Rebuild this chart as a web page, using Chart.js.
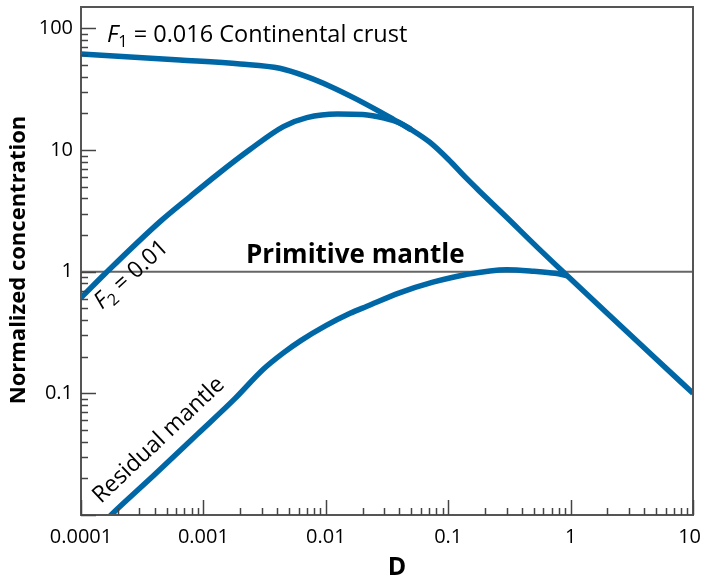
<!DOCTYPE html>
<html>
<head>
<meta charset="utf-8">
<script src="https://cdn.jsdelivr.net/npm/chart.js@4/dist/chart.umd.min.js"></script>
<style>
  body { margin: 0; background: #fff; }
  #wrap { width: 702px; height: 582px; }
</style>
</head>
<body>
<div id="wrap"><canvas id="plot"></canvas></div>
<script>
// valeurs (D, concentration normalisée)
const crustD = [0.0001, 0.00064, 0.002, 0.0042, 0.0068, 0.0108, 0.0173, 0.0278, 0.0356, 0.05, 0.0706, 0.1, 0.14, 0.182, 0.3, 0.53, 0.935, 2, 5, 10];
const crustC = [61.6, 55, 51, 47, 40.5, 33.5, 26.6, 20.6, 17.9, 14.7, 11.6, 8.4, 5.9, 4.55, 2.8, 1.6, 0.93, 0.453, 0.192, 0.1];

const meltD = [0.0001, 0.00016, 0.00044, 0.00078, 0.0013, 0.0024, 0.0045, 0.007, 0.0125, 0.02, 0.03, 0.04, 0.05];
const meltC = [0.61, 0.98, 2.57, 4.15, 6.3, 10.1, 15.6, 18.5, 19.8, 19.6, 18.3, 16.7, 14.7];

const residD = [0.00016, 0.000183, 0.0004, 0.00089, 0.0018, 0.00307, 0.0045, 0.0062, 0.01, 0.0158, 0.0217, 0.04, 0.075, 0.14, 0.3, 0.5, 0.75, 0.935];
const residC = [0.0091, 0.0104, 0.0215, 0.046, 0.09, 0.157, 0.215, 0.27, 0.36, 0.455, 0.52, 0.67, 0.82, 0.95, 1.04, 1.01, 0.97, 0.925];

const primitiveD = [0.0001, 10];
const primitiveC = [1, 1];

const xTicks = [0.0001, 0.001, 0.01, 0.1, 1, 10];
const xTickLabels = ['0.0001', '0.001', '0.01', '0.1', '1', '10'];
const yTicks = [0.1, 1, 10, 100];
const yTickLabels = ['0.1', '1', '10', '100'];

const BLUE = '#0067a7';
const FONT = '"Open Sans", "Noto Sans", sans-serif';

function pts(xs, ys) {
    return xs.map((x, i) => ({ x: x, y: ys[i] }));
}

// texte avec F italique et indice
function drawRich(ctx, parts, x, y, size) {
    let cx = x;
    parts.forEach(p => {
        const s = p.sub ? size * 0.7 : size;
        ctx.font = (p.italic ? 'italic ' : '') + s + 'px ' + FONT;
        ctx.fillText(p.t, cx, p.sub ? y + size * 0.22 : y);
        cx += ctx.measureText(p.t).width;
    });
}

const decorPlugin = {
    id: 'decor',
    afterDraw(chart) {
        const ctx = chart.ctx;
        const a = chart.chartArea;
        const xs = chart.scales.x;
        const ys = chart.scales.y;
        ctx.save();

        // cadre
        ctx.strokeStyle = '#555';
        ctx.lineWidth = 2;
        ctx.strokeRect(a.left, a.top, a.right - a.left, a.bottom - a.top);

        // graduations vers l'intérieur
        ctx.lineWidth = 1.5;
        ctx.strokeStyle = '#444';
        for (let e = -4; e <= 1; e++) {
            for (let m = 1; m <= 9; m++) {
                const v = m * Math.pow(10, e);
                if (v < xs.min * 0.999 || v > xs.max * 1.001) continue;
                const px = Math.round(xs.getPixelForValue(v)) + 0.5;
                const len = m === 1 ? 15 : 7;
                ctx.beginPath();
                ctx.moveTo(px, a.bottom);
                ctx.lineTo(px, a.bottom - len);
                ctx.stroke();
            }
        }
        for (let e = -2; e <= 2; e++) {
            for (let m = 1; m <= 9; m++) {
                const v = m * Math.pow(10, e);
                if (v < ys.min * 0.999 || v > ys.max * 1.001) continue;
                const py = Math.round(ys.getPixelForValue(v)) + 0.5;
                const len = m === 1 ? 15 : 7;
                ctx.beginPath();
                ctx.moveTo(a.left, py);
                ctx.lineTo(a.left + len, py);
                ctx.stroke();
            }
        }

        // étiquettes de l'axe x (la dernière reste dans le cadre)
        ctx.fillStyle = '#000';
        ctx.textBaseline = 'alphabetic';
        ctx.textAlign = 'center';
        ctx.font = '20px ' + FONT;
        xTicks.forEach((v, i) => {
            const w = ctx.measureText(xTickLabels[i]).width;
            let px = xs.getPixelForValue(v);
            px = Math.min(px, 701 - w / 2);
            ctx.fillText(xTickLabels[i], px, 543);
        });

        // titres des axes
        ctx.font = 'bold 25px ' + FONT;
        ctx.fillText('D', 397, 575);
        ctx.save();
        ctx.translate(25, 260);
        ctx.rotate(-Math.PI / 2);
        ctx.font = 'bold 22px ' + FONT;
        ctx.fillText('Normalized concentration', 0, 0);
        ctx.restore();

        // annotations
        ctx.textAlign = 'left';
        drawRich(ctx, [
            { t: 'F', italic: true },
            { t: '1', sub: true },
            { t: ' = 0.016 Continental crust' }
        ], xs.getPixelForValue(0.000163), ys.getPixelForValue(77), 23.5);

        ctx.font = 'bold 26px ' + FONT;
        ctx.fillText('Primitive mantle', xs.getPixelForValue(0.00223), ys.getPixelForValue(1.19));

        ctx.save();
        ctx.translate(102, 310);
        ctx.rotate(-42 * Math.PI / 180);
        drawRich(ctx, [
            { t: 'F', italic: true },
            { t: '2', sub: true },
            { t: ' = 0.01' }
        ], 0, 0, 23);
        ctx.restore();

        ctx.save();
        ctx.translate(101, 504);
        ctx.rotate(-43.5 * Math.PI / 180);
        ctx.font = '23px ' + FONT;
        ctx.fillText('Residual mantle', 0, 0);
        ctx.restore();

        ctx.restore();
    }
};

function lineSet(label, data, color, width) {
    return {
        label: label,
        data: data,
        borderColor: color,
        borderWidth: width,
        pointRadius: 0,
        fill: false,
        cubicInterpolationMode: 'monotone',
        clip: 0
    };
}

function noPad(s) {
    s.paddingLeft = 0;
    s.paddingRight = 0;
    s.paddingTop = 0;
    s.paddingBottom = 0;
}

new Chart(document.getElementById('plot'), {
    type: 'line',
    data: {
        datasets: [
            lineSet('Continental crust', pts(crustD, crustC), BLUE, 5.5),
            lineSet('F2 = 0.01', pts(meltD, meltC), BLUE, 5.5),
            lineSet('Residual mantle', pts(residD, residC), BLUE, 5.5),
            lineSet('Primitive mantle', pts(primitiveD, primitiveC), '#666', 2)
        ]
    },
    options: {
        responsive: true,
        maintainAspectRatio: false,
        animation: false,
        layout: { padding: { top: 7, right: 9, left: 0, bottom: 0 } },
        plugins: {
            legend: { display: false },
            tooltip: { enabled: false }
        },
        scales: {
            x: {
                type: 'logarithmic',
                min: 0.0001,
                max: 10,
                grid: { display: false, drawTicks: false },
                border: { display: false },
                afterBuildTicks: s => { s.ticks = xTicks.map(v => ({ value: v })); },
                afterFit: s => { s.height = 67; noPad(s); },
                ticks: { display: false }
            },
            y: {
                type: 'logarithmic',
                min: 0.01,
                max: 150,
                grid: { display: false, drawTicks: false },
                border: { display: false },
                afterBuildTicks: s => { s.ticks = yTicks.map(v => ({ value: v })); },
                afterFit: s => { s.width = 81; noPad(s); },
                ticks: {
                    autoSkip: false,
                    padding: 8,
                    color: '#000',
                    font: { family: FONT, size: 20 },
                    callback: (v, i) => yTickLabels[i]
                }
            }
        }
    },
    plugins: [decorPlugin]
});
</script>
</body>
</html>
